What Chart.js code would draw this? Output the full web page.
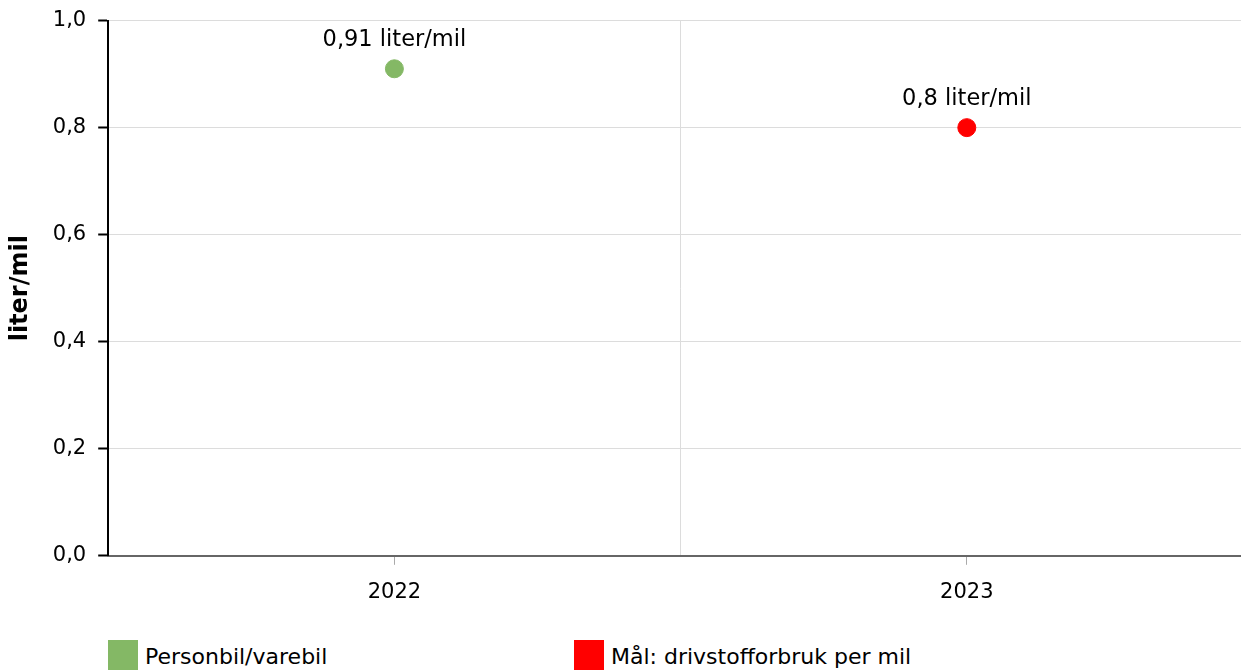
<!DOCTYPE html>
<html>
<head>
<meta charset="utf-8">
<script src="https://cdn.jsdelivr.net/npm/chart.js@4"></script>
<style>
  html,body{margin:0;padding:0;background:#fff;overflow:hidden;width:1241px;height:670px;}
  #wrap{position:absolute;left:0;top:-4px;width:1263px;height:624px;}
  #legend{position:absolute;left:108px;top:640px;font-family:"DejaVu Sans",Verdana,sans-serif;font-size:22px;color:#000;white-space:nowrap;}
  .item{display:inline-block;width:466px;height:32px;}
  .box{display:inline-block;width:30px;height:32px;vertical-align:top;margin-right:7px;}
  .lbl{display:inline-block;vertical-align:top;line-height:34px;}
</style>
</head>
<body>
<div id="wrap"><canvas id="c"></canvas></div>
<div id="legend"></div>
<script>
// data
const years = ['2022', '2023'];
const seriesNames = ['Personbil/varebil', 'Mål: drivstofforbruk per mil'];
const personbil = [0.91, null];
const maal = [null, 0.8];
const colors = ['#84b865', '#ff0000'];
const yTicks = [0, 0.2, 0.4, 0.6, 0.8, 1.0];

const fmt = v => String(v).replace('.', ',');
const fmt1 = v => v.toFixed(1).replace('.', ',');
const FONT = '"DejaVu Sans", Verdana, sans-serif';

// etiketter over punktene
const pointLabels = {
  id: 'pointLabels',
  afterDatasetsDraw(chart){
    const ctx = chart.ctx;
    ctx.save();
    ctx.font = '22.5px ' + FONT;
    ctx.fillStyle = '#000';
    ctx.textAlign = 'center';
    ctx.textBaseline = 'bottom';
    chart.data.datasets.forEach((ds, i) => {
      chart.getDatasetMeta(i).data.forEach((pt, j) => {
        const v = ds.data[j];
        if(v == null) return;
        ctx.fillText(fmt(v) + ' liter/mil', pt.x, pt.y - 17);
      });
    });
    ctx.restore();
  }
};

new Chart(document.getElementById('c'), {
  type: 'line',
  data: {
    labels: years,
    datasets: [
      { label: seriesNames[0], data: personbil, backgroundColor: colors[0], borderColor: colors[0], pointRadius: 9, showLine: false },
      { label: seriesNames[1], data: maal, backgroundColor: colors[1], borderColor: colors[1], pointRadius: 9, showLine: false }
    ]
  },
  options: {
    responsive: true,
    maintainAspectRatio: false,
    animation: false,
    layout: { padding: { top: 8, left: 2 } },
    plugins: { legend: { display: false }, tooltip: { enabled: false } },
    scales: {
      x: {
        offset: true,
        grid: { offset: false, color: 'transparent', tickColor: '#aaa', tickLength: 9, drawOnChartArea: false },
        border: { color: '#666', width: 2 },
        ticks: { color: '#000', font: { family: FONT, size: 21 }, padding: 15 }
      },
      x2: {
        type: 'category',
        position: 'bottom',
        offset: true,
        grid: { offset: true, color: '#dcdcdc', drawTicks: false },
        border: { display: false },
        ticks: { display: false }
      },
      y: {
        min: 0, max: 1,
        afterBuildTicks: s => { s.ticks = yTicks.map(v => ({ value: v })); },
        grid: { color: '#dcdcdc', tickColor: '#000', tickLength: 10, tickWidth: 2 },
        border: { color: '#000', width: 2 },
        ticks: { color: '#000', font: { family: FONT, size: 21 }, padding: 12, callback: v => fmt1(v) },
        title: { display: true, text: 'liter/mil', color: '#000', font: { family: FONT, size: 24, weight: 'bold' }, padding: { bottom: 6 } }
      }
    }
  },
  plugins: [pointLabels]
});

// legend
const lg = document.getElementById('legend');
seriesNames.forEach((n, i) => {
  const it = document.createElement('span');
  it.className = 'item';
  it.innerHTML = `<span class="box" style="background:${colors[i]}"></span><span class="lbl">${n}</span>`;
  lg.appendChild(it);
});
</script>
</body>
</html>
